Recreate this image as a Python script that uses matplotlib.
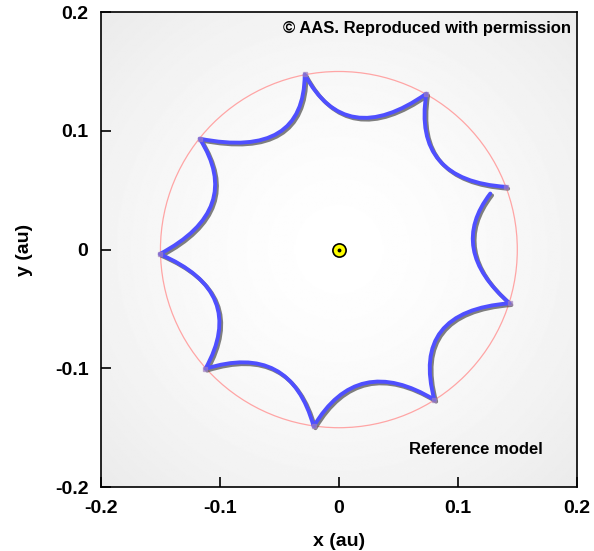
import matplotlib
matplotlib.use("Agg")
import matplotlib.pyplot as plt
import matplotlib.patheffects as pe
from matplotlib.path import Path
from matplotlib.patches import PathPatch
import numpy as np

plt.rcParams['font.family'] = ['Liberation Sans', 'DejaVu Sans']

# trajectory (au): start point, then the cusps on r = 0.15
cusp_x = [0.1273, 0.1435, 0.0803, -0.0212, -0.1122, -0.1506, -0.1170, -0.0287, 0.0735, 0.1408]
cusp_y = [0.0472, -0.0452, -0.1265, -0.1489, -0.1004, -0.0038, 0.0934, 0.1475, 0.1313, 0.0528]
# bend (control) point of each arc between two cusps
bend_x = [0.0912, 0.0601, 0.0155, -0.0408, -0.0761, -0.0794, -0.0290, 0.0055, 0.0618]
bend_y = [0.0004, -0.0517, -0.0870, -0.0777, -0.0357, 0.0340, 0.0761, 0.0836, 0.0579]

circle_r = 0.15
ticks = [-0.2, -0.1, 0, 0.1, 0.2]
tick_labels = ['-0.2', '-0.1', '0', '0.1', '0.2']

fig = plt.figure(figsize=(5.94, 5.51), dpi=100)
ax = fig.add_axes([0.170, 0.116, 0.801, 0.862])

# radial grey background
g = np.linspace(-1, 1, 400)
gx, gy = np.meshgrid(g, g)
rr = np.sqrt(gx**2 + gy**2)
bg = 1.0 - 0.08 * np.clip(rr / 1.4142, 0, 1) ** 1.5
ax.imshow(bg, extent=[-0.2, 0.2, -0.2, 0.2], cmap='gray', vmin=0, vmax=1,
          origin='lower', zorder=0, interpolation='bilinear')

circ = plt.Circle((0, 0), circle_r, fill=False, color='#ffa5a5', lw=0.9, zorder=2)
ax.add_patch(circ)

# the trajectory as a chain of quadratic curves
verts = [(cusp_x[0], cusp_y[0])]
codes = [Path.MOVETO]
for i in range(len(bend_x)):
    verts += [(bend_x[i], bend_y[i]), (cusp_x[i + 1], cusp_y[i + 1])]
    codes += [Path.CURVE3, Path.CURVE3]
traj = PathPatch(Path(verts, codes), fill=False, edgecolor='#4f4fff', lw=2.8,
                 joinstyle='round', capstyle='round', zorder=3)
traj.set_path_effects([pe.SimpleLineShadow(offset=(1.3, -1.3), shadow_color='#4a4a4a', alpha=0.7),
                       pe.Normal()])
ax.add_patch(traj)

ax.plot(cusp_x[1:], cusp_y[1:], 's', ms=2.5, color='#a080c0', alpha=0.6, zorder=4)

ax.plot([0], [0], 'o', ms=9.5, mfc='#ffff00', mec='black', mew=1.2, zorder=4)
ax.plot([0], [0], 'o', ms=1.8, color='black', zorder=5)

ax.set_xlim(-0.2, 0.2)
ax.set_ylim(-0.2, 0.2)
ax.set_aspect('auto')
ax.set_xticks(ticks)
ax.set_xticklabels(tick_labels)
ax.set_yticks(ticks)
ax.set_yticklabels(tick_labels)
ax.tick_params(direction='in', length=7, width=1.2, labelsize=14)
ax.tick_params(axis='x', pad=9)
ax.tick_params(axis='y', pad=9)
for lab in ax.get_xticklabels() + ax.get_yticklabels():
    lab.set_fontweight('bold')
for s in ax.spines.values():
    s.set_linewidth(1.2)

ax.set_xlabel('x (au)', fontsize=14, fontweight='bold', labelpad=12)
ax.set_ylabel('y (au)', fontsize=14, fontweight='bold', labelpad=16)

ax.text(0.1955, 0.186, '\u00a9 AAS. Reproduced with permission', ha='right', va='center',
        fontsize=12, fontweight='bold', zorder=6)
ax.text(0.1718, -0.1685, 'Reference model', ha='right', va='center',
        fontsize=12, fontweight='bold', zorder=6)

fig.savefig('out.png', dpi=100)
